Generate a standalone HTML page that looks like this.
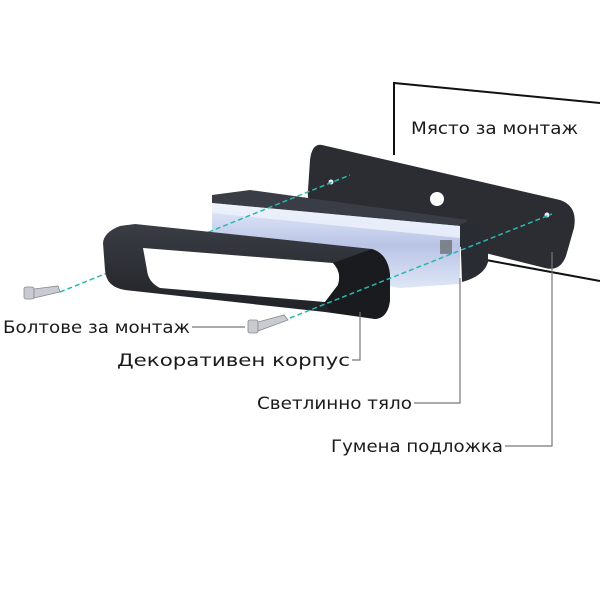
<!DOCTYPE html>
<html><head><meta charset="utf-8"><style>
html,body{margin:0;padding:0;background:#fff;}
svg{display:block;}
text{font-family:"DejaVu Sans","Liberation Sans",sans-serif;font-size:17px;fill:#1a1a1a;}
</style></head><body>
<svg width="600" height="600" viewBox="0 0 600 600" xmlns="http://www.w3.org/2000/svg">
<defs>
<linearGradient id="lb" x1="0" y1="0" x2="0" y2="1">
<stop offset="0" stop-color="#e6ecfa"/><stop offset="0.5" stop-color="#b9c4e6"/><stop offset="1" stop-color="#dfe6f6"/>
</linearGradient>
<linearGradient id="bz" x1="0" y1="0" x2="0" y2="1">
<stop offset="0" stop-color="#3a3d44"/><stop offset="1" stop-color="#1e2025"/>
</linearGradient>
</defs>
<!-- wall -->
<polyline points="600,103 394,83 394,155" fill="none" stroke="#111" stroke-width="2"/>
<line x1="486" y1="260" x2="600" y2="281" stroke="#111" stroke-width="2"/>
<text x="411" y="134" textLength="167" lengthAdjust="spacingAndGlyphs">Място за монтаж</text>
<!-- rubber plate -->
<path d="M322,145 L560,200 Q578,206 574,228 L566,256 Q560,272 545,268 L322,212 Q306,207 308,190 L310,160 Q312,143 322,145 Z" fill="#2b2d33"/>
<circle cx="437" cy="199" r="7" fill="#fff"/>
<circle cx="331" cy="182" r="2.5" fill="#eee"/>
<circle cx="547" cy="215" r="2.5" fill="#eee"/>
<!-- light body -->
<path d="M212,195 L250,190 L468,220 L460,226 L212,204 Z" fill="#3a3d45"/>
<path d="M460,224 Q482,222 488,240 L488,262 Q484,276 462,282 Z" fill="#2a2c33"/>
<path d="M212,203 L460,226 L460,284 L400,288 L212,250 Z" fill="url(#lb)"/>
<path d="M212,203 L460,226 L460,238 L212,213 Z" fill="#eef2fb" opacity="0.8"/>
<rect x="440" y="240" width="12" height="14" fill="#555" opacity="0.6"/>
<!-- dashed axes -->
<line x1="60" y1="292" x2="350" y2="175" stroke="#29b8b0" stroke-width="1.5" stroke-dasharray="5,3"/>
<!-- bezel -->
<path d="M103,243 Q104,232 120,226 L135,224 L372,249 Q388,254 390,275 L390,300 Q388,318 375,319 L325,312 L125,290 Q106,287 105,270 Z" fill="url(#bz)"/>
<path d="M143,248 L333,263 Q342,272 338,285 L325,302 L160,288 Q148,282 147,270 Z" fill="#fff"/>
<path d="M333,263 Q342,272 338,285 L325,302 L330,312 L375,319 Q388,318 390,300 L390,275 Q388,254 372,249 Z" fill="#1a1b1f"/>
<line x1="290" y1="318" x2="552" y2="214" stroke="#29b8b0" stroke-width="1.5" stroke-dasharray="5,3"/>
<!-- screws -->
<g fill="#c8ccd2" stroke="#888" stroke-width="0.8">
<rect x="24" y="287" width="10" height="12" rx="2"/>
<path d="M34,289 L58,286 L60,292 L34,298 Z"/>
<rect x="248" y="320" width="10" height="13" rx="2"/>
<path d="M258,322 L284,315 L288,320 L258,331 Z"/>
</g>
<!-- leaders -->
<g fill="none" stroke="#777" stroke-width="1.2">
<line x1="192" y1="327" x2="245" y2="327"/>
<polyline points="352,360 360,360 360,312"/>
<polyline points="414,403 460,403 460,278"/>
<polyline points="505,446 552,446 552,252"/>
</g>
<text x="3" y="333" textLength="187" lengthAdjust="spacingAndGlyphs">Болтове за монтаж</text>
<text x="117" y="366" textLength="233" lengthAdjust="spacingAndGlyphs">Декоративен корпус</text>
<text x="257" y="409" textLength="155" lengthAdjust="spacingAndGlyphs">Светлинно тяло</text>
<text x="331" y="452" textLength="172" lengthAdjust="spacingAndGlyphs">Гумена подложка</text>
</svg>
</body></html>
